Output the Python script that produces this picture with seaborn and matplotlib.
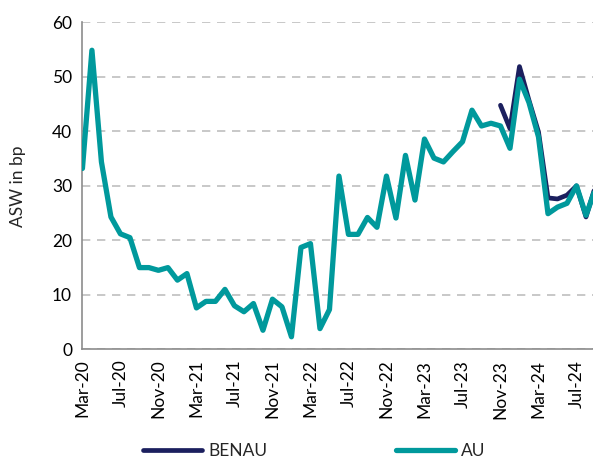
import numpy as np
import pandas as pd
import matplotlib
matplotlib.use('Agg')
import matplotlib.pyplot as plt
import seaborn as sns

# monthly series, Mar-20 .. Sep-24
months = pd.date_range('2020-03-01', '2024-09-01', freq='MS')
month_labels = [d.strftime('%b-%y') for d in months]

au = [33.2, 54.9, 34.4, 24.3, 21.2, 20.5, 15.0, 15.0, 14.5, 15.0, 12.7, 13.9,
      7.6, 8.8, 8.8, 11.0, 8.0, 6.9, 8.4, 3.5, 9.2, 7.8, 2.3, 18.7,
      19.4, 3.8, 7.3, 31.8, 21.1, 21.1, 24.2, 22.4, 31.8, 24.1, 35.6, 27.4,
      38.6, 35.1, 34.4, 36.3, 38.1, 43.9, 41.0, 41.5, 41.0, 36.9, 49.6, 45.3,
      39.0, 24.9, 26.1, 26.8, 30.0, 24.6, 29.5]
# BENAU starts in Nov-23
benau_start = 44
benau = [44.8, 40.5, 51.9, 45.7, 39.9, 27.8, 27.6, 28.3, 30.0, 24.3, 30.0]

df_au = pd.DataFrame({'x': np.arange(len(au)), 'val': au})
df_benau = pd.DataFrame({'x': np.arange(benau_start, benau_start + len(benau)), 'val': benau})

sns.set_style('white')
plt.rcParams['font.family'] = ['Lato', 'DejaVu Sans']

fig = plt.figure(figsize=(5.93, 4.68), dpi=100)
ax = fig.add_axes([0.139, 0.2536, 0.862, 0.6984])

sns.lineplot(data=df_benau, x='x', y='val', color='#1b1f5e', linewidth=3.4,
             label='BENAU', ax=ax, zorder=3)
sns.lineplot(data=df_au, x='x', y='val', color='#00999c', linewidth=3.8,
             label='AU', ax=ax, zorder=4)

ax.set_ylim(0, 60)
ax.set_xlim(0, 53.8)
ax.set_yticks(range(0, 61, 10))
ax.set_xticks(range(0, len(months), 4))
ax.set_xticklabels(month_labels[::4], rotation=90)
ax.tick_params(axis='both', labelsize=12.5, colors='#000000', length=4, width=1)
ax.tick_params(axis='x', color='#8c8c8c')
ax.tick_params(axis='y', color='#8c8c8c')
ax.grid(axis='y', linestyle=(0, (5, 4)), color='#bfbfbf', linewidth=1.2)
ax.set_axisbelow(True)

for s in ['top', 'right']:
    ax.spines[s].set_visible(False)
for s in ['left', 'bottom']:
    ax.spines[s].set_color('#8c8c8c')
    ax.spines[s].set_linewidth(1.2)

ax.set_xlabel('')
ax.set_ylabel('ASW in bp', fontsize=12.5)
ax.yaxis.set_label_coords(-0.11, 0.5)

ax.legend_.remove()
handles, labels = ax.get_legend_handles_labels()
fig.legend(handles, labels, loc='lower center', bbox_to_anchor=(0.53, -0.015),
           ncol=2, frameon=False, fontsize=12.5, handlelength=3.4,
           columnspacing=7.4, handletextpad=0.35)

fig.savefig('out.png', dpi=100)
